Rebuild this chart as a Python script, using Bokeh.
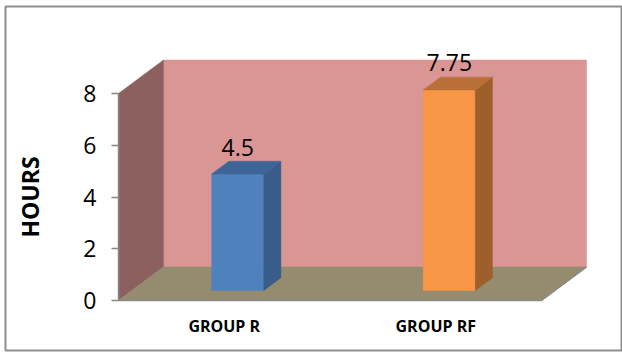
from bokeh.plotting import figure
from bokeh.models import Range1d, LinearAxis, FixedTicker, ColumnDataSource
from bokeh.core.properties import value
from bokeh.embed import file_html
from bokeh.resources import INLINE

# ---- data -------------------------------------------------------------
CATEGORIES = ["GROUP R", "GROUP RF"]
HOURS = [4.5, 7.75]
Y_TICKS = [0, 2, 4, 6, 8]
Y_MAX = 8

# ---- styling ----------------------------------------------------------
FRONT_COLORS = ["#4F81BD", "#F79646"]
SIDE_COLORS = ["#385D8A", "#9F5F2B"]
TOP_COLORS = ["#3D6697", "#B96F37"]
BACK_WALL = "#D99694"
SIDE_WALL = "#8C605F"
FLOOR = "#958C6F"
FONT = "Open Sans"

# oblique 3-D projection: offset of the full depth in data units
DEPTH_X = 0.2128   # along the category axis
DEPTH_Y = 1.295    # along the value axis
BAR_WIDTH = 0.246
BAR_D0, BAR_D1 = 0.30, 0.68   # bar front / back as fractions of depth

n = len(CATEGORIES)

p = figure(
    width=622, height=352,
    x_range=Range1d(-0.5343, 2.378),
    y_range=Range1d(-1.932, 11.362),
    x_axis_type=None, y_axis_type=None,
    output_backend="svg", toolbar_location=None,
    min_border_left=5, min_border_right=1,
    min_border_top=6, min_border_bottom=2,
)
p.background_fill_color = "white"
p.border_fill_color = "white"
p.outline_line_color = "#8E8E8E"
p.outline_line_width = 2

# ---- walls and floor ---------------------------------------------------
walls = ColumnDataSource(dict(
    xs=[
        [DEPTH_X, n + DEPTH_X, n + DEPTH_X, DEPTH_X],
        [0, DEPTH_X, DEPTH_X, 0],
    ],
    ys=[
        [DEPTH_Y, DEPTH_Y, Y_MAX + DEPTH_Y, Y_MAX + DEPTH_Y],
        [0, DEPTH_Y, Y_MAX + DEPTH_Y, Y_MAX],
    ],
    color=[BACK_WALL, SIDE_WALL],
))
p.patches("xs", "ys", source=walls, fill_color="color", line_color="color",
          line_width=0.5)

p.patch([0, n, n + DEPTH_X, DEPTH_X], [0, 0, DEPTH_Y, DEPTH_Y],
        fill_color=FLOOR, line_color=FLOOR, line_width=0.5)
p.line([0, n, n + DEPTH_X], [0, 0, DEPTH_Y], line_color="#8A8A8A",
       line_width=1.5)

# ---- 3-D columns ---------------------------------------------------------
fx, fy = BAR_D0 * DEPTH_X, BAR_D0 * DEPTH_Y
dx, dy = (BAR_D1 - BAR_D0) * DEPTH_X, (BAR_D1 - BAR_D0) * DEPTH_Y

xs, ys, colors = [], [], []
label_x, label_y = [], []
for i, v in enumerate(HOURS):
    c = i + 0.5
    left, right = c - BAR_WIDTH / 2 + fx, c + BAR_WIDTH / 2 + fx
    bottom, top = fy, v + fy
    # front face
    xs.append([left, right, right, left])
    ys.append([bottom, bottom, top, top])
    colors.append(FRONT_COLORS[i])
    # side face
    xs.append([right, right + dx, right + dx, right])
    ys.append([bottom, bottom + dy, top + dy, top])
    colors.append(SIDE_COLORS[i])
    # top face
    xs.append([left, right, right + dx, left + dx])
    ys.append([top, top, top + dy, top + dy])
    colors.append(TOP_COLORS[i])
    label_x.append(c + fx)
    label_y.append(top)

bars = ColumnDataSource(dict(xs=xs, ys=ys, color=colors))
p.patches("xs", "ys", source=bars, fill_color="color", line_color="color",
          line_width=0.5)

labels = ColumnDataSource(dict(x=label_x, y=label_y,
                               text=[f"{v:g}" for v in HOURS]))
p.text("x", "y", text="text", source=labels, text_align="center",
       text_baseline="middle", y_offset=-27, text_font=value(FONT),
       text_font_size="23px", text_color="black")

# ---- axes ---------------------------------------------------------------
yaxis = LinearAxis(
    ticker=FixedTicker(ticks=Y_TICKS), fixed_location=0, bounds=(0, Y_MAX),
    axis_label="HOURS", axis_label_standoff=34,
    axis_label_text_font=FONT, axis_label_text_font_size="23px",
    axis_label_text_font_style="bold", axis_label_text_color="black",
    major_label_text_font=FONT, major_label_text_font_size="23px",
    major_label_text_color="black", major_label_standoff=15,
    major_tick_out=7, major_tick_in=0, minor_tick_line_color=None,
    axis_line_color="#868686", major_tick_line_color="#868686",
    axis_line_width=1.5, major_tick_line_width=1.5,
)
p.add_layout(yaxis, "left")

xaxis = LinearAxis(
    ticker=FixedTicker(ticks=[i + 0.5 for i in range(n)]), fixed_location=0,
    major_label_overrides={i + 0.5: name for i, name in enumerate(CATEGORIES)},
    major_label_text_font=FONT, major_label_text_font_size="16px",
    major_label_text_font_style="bold", major_label_text_color="black",
    major_label_standoff=8, axis_line_color=None,
    major_tick_line_color=None, minor_tick_line_color=None,
)
p.add_layout(xaxis, "below")

open("out.html", "w").write(file_html(p, INLINE))
